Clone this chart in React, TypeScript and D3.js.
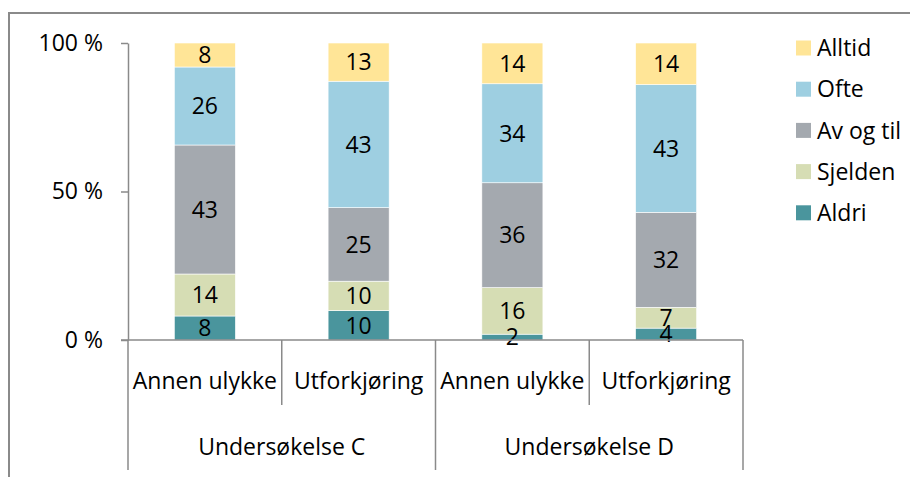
import React, { useEffect, useRef } from 'react';
import * as d3 from 'd3';

// categories (sub, group)
const categories = ['Annen ulykke', 'Utforkjøring', 'Annen ulykke', 'Utforkjøring'];
const groups = ['Undersøkelse C', 'Undersøkelse D'];

// series, bottom to top
const seriesNames = ['Aldri', 'Sjelden', 'Av og til', 'Ofte', 'Alltid'];
const aldri = [8, 10, 2, 4];
const sjelden = [14, 10, 16, 7];
const avOgTil = [43, 25, 36, 32];
const ofte = [26, 43, 34, 43];
const alltid = [8, 13, 14, 14];

const yTicks = [0, 0.5, 1];

const colors = ['#4a959d', '#d6ddb4', '#a4a9af', '#9ecfe1', '#ffe597'];

const App = () => {
  const chartRef = useRef<SVGSVGElement | null>(null);

  useEffect(() => {
    const width = 910;
    const height = 477;
    const left = 128;
    const right = 743;
    const top = 43;
    const bottom = 340;
    const font = '"Open Sans", sans-serif';
    const fontSize = 23;
    const axisColor = '#8a8a8a';

    const svg = d3.select(chartRef.current);
    svg.selectAll('*').remove();

    // outer frame (runs off the picture on right/bottom)
    svg.append('rect')
      .attr('x', 9)
      .attr('y', 13)
      .attr('width', width + 20)
      .attr('height', height + 20)
      .attr('fill', 'white')
      .attr('stroke', axisColor)
      .attr('stroke-width', 2);

    const series = [aldri, sjelden, avOgTil, ofte, alltid];
    const rows = categories.map((c, i) => {
      const row: any = { idx: i };
      seriesNames.forEach((s, j) => { row[s] = series[j][i]; });
      return row;
    });

    const stacked = d3.stack()
      .keys(seriesNames)
      .offset(d3.stackOffsetExpand)(rows);

    const xScale = d3.scaleBand<number>()
      .domain(d3.range(categories.length))
      .range([left, right])
      .padding(0);

    const barW = xScale.bandwidth() * 0.397;

    const yScale = d3.scaleLinear()
      .domain([0, 1])
      .range([bottom, top]);

    const chart = svg.append('g');

    const layers = chart.selectAll('.layer')
      .data(stacked)
      .enter()
      .append('g')
      .attr('class', 'layer')
      .attr('fill', (d, i) => colors[i]);

    layers.selectAll('rect')
      .data((d) => d)
      .enter()
      .append('rect')
      .attr('x', (d, i) => xScale(i)! + (xScale.bandwidth() - barW) / 2)
      .attr('y', (d) => yScale(d[1]))
      .attr('width', barW)
      .attr('height', (d) => yScale(d[0]) - yScale(d[1]))
      .attr('stroke', 'white')
      .attr('stroke-width', 0.6);

    // value labels
    stacked.forEach((layer, j) => {
      chart.selectAll('.lbl' + j)
        .data(layer)
        .enter()
        .append('text')
        .attr('x', (d, i) => xScale(i)! + xScale.bandwidth() / 2)
        .attr('y', (d) => yScale((d[0] + d[1]) / 2))
        .attr('dy', '0.36em')
        .attr('text-anchor', 'middle')
        .attr('font-family', font)
        .attr('font-size', fontSize)
        .attr('fill', 'black')
        .text((d, i) => series[j][i]);
    });

    // y axis
    const yAxis = svg.append('g')
      .attr('transform', `translate(${left},0)`)
      .call(d3.axisLeft(yScale)
        .tickValues(yTicks)
        .tickFormat((d) => `${Math.round(+d * 100)} %`)
        .tickSize(7)
        .tickSizeOuter(0)
        .tickPadding(18));
    yAxis.select('.domain').attr('stroke', axisColor).attr('stroke-width', 1.5);
    yAxis.selectAll('.tick line').attr('stroke', axisColor).attr('stroke-width', 1.5);
    yAxis.selectAll('.tick text')
      .attr('font-family', font)
      .attr('font-size', fontSize)
      .attr('fill', 'black');

    // x axis line
    svg.append('line')
      .attr('x1', left - 7)
      .attr('x2', right)
      .attr('y1', bottom)
      .attr('y2', bottom)
      .attr('stroke', axisColor)
      .attr('stroke-width', 1.5);

    // category dividers
    const edges = d3.range(categories.length + 1).map((i) => left + i * xScale.step());
    svg.selectAll('.divider')
      .data(edges)
      .enter()
      .append('line')
      .attr('x1', (d) => d)
      .attr('x2', (d) => d)
      .attr('y1', bottom)
      .attr('y2', (d, i) => (i % 2 === 0 ? 470 : 405))
      .attr('stroke', axisColor)
      .attr('stroke-width', 1.5);

    svg.selectAll('.cat-label')
      .data(categories)
      .enter()
      .append('text')
      .attr('x', (d, i) => xScale(i)! + xScale.bandwidth() / 2)
      .attr('y', 381)
      .attr('dy', '0.36em')
      .attr('text-anchor', 'middle')
      .attr('font-family', font)
      .attr('font-size', fontSize)
      .text((d) => d);

    svg.selectAll('.group-label')
      .data(groups)
      .enter()
      .append('text')
      .attr('x', (d, i) => left + (i * 2 + 1) * xScale.step())
      .attr('y', 447)
      .attr('dy', '0.36em')
      .attr('text-anchor', 'middle')
      .attr('font-family', font)
      .attr('font-size', fontSize)
      .text((d) => d);

    // legend, top to bottom reversed
    const legendItems = seriesNames.map((s, i) => ({ name: s, color: colors[i] })).reverse();
    const legend = svg.selectAll('.legend')
      .data(legendItems)
      .enter()
      .append('g')
      .attr('transform', (d, i) => `translate(796, ${48 + i * 41.2})`);
    legend.append('rect')
      .attr('x', 0)
      .attr('y', -7.5)
      .attr('width', 15)
      .attr('height', 15)
      .attr('fill', (d) => d.color);
    legend.append('text')
      .attr('x', 21)
      .attr('y', 0)
      .attr('dy', '0.36em')
      .attr('font-family', font)
      .attr('font-size', fontSize)
      .text((d) => d.name);
  }, []);

  return (
    <svg
      ref={chartRef}
      width={910}
      height={477}
      style={{ position: 'absolute', left: 0, top: 0, display: 'block' }}
    />
  );
};

export default App;
